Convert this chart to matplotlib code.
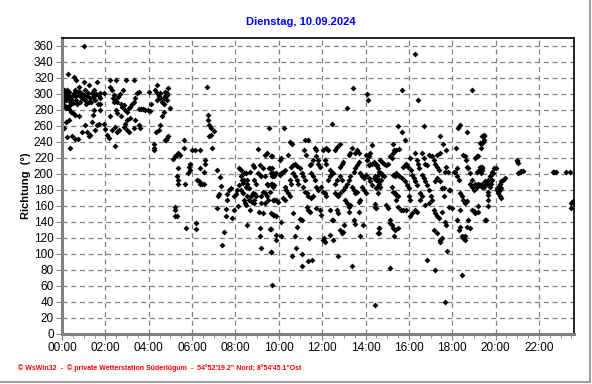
import numpy as np
import matplotlib
matplotlib.use("Agg")
import matplotlib.pyplot as plt
from matplotlib.lines import Line2D
from matplotlib.ticker import MultipleLocator, FuncFormatter

plt.rcParams['font.family'] = ['Liberation Sans', 'DejaVu Sans']

nacht = [(62,360),(16,325),(5,305),(32,321),(40,317),(60,315),(74,311),(97,315),(134,318),(150,317),
         (178,317),(198,317),(263,311),(240,302),
         (0,297),(5,292),(9,301),(14,305),(18,295),(23,290),(28,297),(32,301),(37,305),(42,299),
         (46,309),(51,303),(55,295),(60,299),(65,305),(69,297),(74,290),(78,295),(83,301),(88,305),
         (92,299),(102,297),(106,301),(115,301),(134,309),(138,305),(143,299),(148,292),(152,290),
         (162,288),(166,284),(171,286),(175,280),(180,278),(185,282),(189,284),(194,288),(198,290),
         (203,295),(208,301),(212,303),(5,286),(14,284),(23,286),(42,288),(51,290),(65,292),
         (3,300),(8,296),(12,292),(16,299),(20,303),(25,294),(30,289),(35,298),(40,293),(45,302),
         (50,297),(55,300),(62,294),(66,288),(72,301),(80,290),(85,296),(90,292),(95,300),(100,287),
         (10,283),(20,281),(26,278),(140,295),(145,290),(155,296),(160,300),(170,305),
         (258,305),(263,301),(268,297),(272,295),(277,290),(282,288),(286,297),(291,301),(263,292),(272,301),
         (5,257),(12,265),(18,268),(14,246),(23,233),(28,247),(37,244),(43,244),(30,276),(37,274),
         (46,272),(55,252),(65,261),(69,253),(74,247),(78,249),(83,265),(86,274),(88,280),(92,255),
         (97,261),(102,263),(106,280),(104,288),(106,295),(115,263),(120,256),(125,249),(129,245),(132,272),
         (138,255),(148,259),(152,253),(157,255),(150,280),(152,276),(162,272),(148,235),(171,259),(175,263),
         (180,255),(185,253),(180,267),(189,270),(203,267),(200,257),(212,261),(215,258),(212,281),(218,281),
         (224,281),(231,280),(237,280),(243,279),(247,287),(261,252),(268,255),(272,261),(277,272),(282,278),
         (254,238),(256,232),(254,230),(289,243),
         (285,303),(290,299),(294,307),(283,295),(290,293),(299,282),(294,247),(290,245),(285,243)]

morgen = [(308,219),(313,222),(318,224),(322,226),(327,224),(321,207),(318,197),(320,193),(322,188),(313,159),
          (313,155),(313,147),(318,147),(341,188),(343,133),(337,243),(338,233),(351,209),(355,213),(353,205),
          (348,201),(360,230),(369,230),(382,230),(371,139),(371,131),(373,193),(378,191),(381,207),(383,188),
          (387,188),(392,188),(392,203),(397,213),(397,217),(402,309),(405,274),(405,268),(408,261),(412,257),
          (407,247),(412,249),(421,254),(414,233),(428,205),(437,196),(441,185),(430,157),(432,172),(435,175),
          (449,127),(442,111),(454,156),(454,147),(458,175),(463,180),(468,182),(456,168),(470,145),(475,155),
          (477,172),(482,175),(485,180),(487,160),(489,207),(495,205),(491,186),(496,180),(501,176),(505,168),
          (507,164),(510,161),(503,201),(510,201),(519,202),(512,193),(513,188),(518,182),(511,136),(521,155),
          (525,165),(530,168),(532,164),(528,211),(532,209),(535,175),(538,172),(543,201),(547,199),(552,197),
          (545,153),(547,132),(549,122),(552,107),(543,231),(547,211),(557,207),(552,164),(557,151),(562,224),
          (566,226),(562,197),(566,188),(571,186),(573,258),(576,207),(580,207),(578,131),(580,222),(578,102),
          (580,61),(585,168),(585,149),(582,197),(585,201),
          (495,197),(499,193),(501,189),(513,172),(518,168),(523,172),(528,176),(505,193),(510,184),(532,193),
          (537,188),(557,178),(562,176),(566,172),(571,168),(576,178),(580,188),(562,164),(552,172)]

mittag = [(614,257),(579,222),(574,207),(579,201),(584,199),(588,197),(593,201),(579,188),(584,184),(588,186),
          (593,168),(597,165),(588,168),(579,151),(588,149),(593,147),(607,140),(577,131),(591,124),(593,117),
          (607,122),(579,103),(602,199),(607,201),(611,203),(616,205),(607,220),(602,218),(616,184),(621,180),
          (626,176),(630,172),(626,224),(630,240),(637,237),(611,170),(616,168),(640,151),(645,122),(647,107),
          (637,97),(650,134),(658,144),(663,142),(663,85),(665,100),(672,242),(681,243),(670,230),(675,224),
          (681,91),(691,92),(635,209),(640,211),(645,213),(649,210),(640,201),(645,197),(649,193),(654,188),
          (630,193),(635,188),(658,207),(663,201),(668,197),(672,193),(668,184),(672,178),(677,176),(681,172),
          (677,159),(681,155),(686,153),(690,170),(695,172),(684,120),(686,211),(690,213),(695,217),(690,201),
          (695,197),(700,193),(700,232),(704,230),(704,222),(709,218),(709,213),(714,209),(704,184),(709,180),
          (704,157),(714,155),(718,149),(723,117),(726,120),(728,115),(718,184),(723,178),(728,176),(732,172),
          (723,230),(732,232),(737,230),(728,218),(732,213),(742,205),(746,201),(737,193),(742,197),(751,201),
          (746,263),(742,155),(746,142),(751,142),(742,124),(751,117),(756,176),(760,174),(765,172),(770,176),
          (756,188),(760,193),(770,197),(774,193),(756,230),(760,234),(770,238),(760,155),(765,151),(763,97),
          (770,209),(774,213),(779,215),(770,130),(774,126),(779,128),(779,180),(784,184),(788,188),(793,193),
          (798,197),(784,168),(788,164),(793,159),(798,161),(781,136),(788,282),(793,224),(798,226),(802,232),
          (795,153),(802,184),(807,180),(812,176),(816,178),(802,85),(805,307),(807,203),(812,207),(816,211),
          (821,215),(807,142),(812,138),(812,226),(816,230),(821,226),(821,165),(826,168),(821,153),(826,201),
          (830,197),(835,195),(840,199),(826,122),(830,184),(835,180),(840,176),(833,136),(840,224),(844,218),
          (849,222),(853,226),(844,300),(846,292),(849,211),(853,213),(858,212),(863,215),(867,213),(872,211),
          (849,195),(853,191),(858,186),(863,195),(858,236),(867,162),(870,158),(877,132),(877,126),(867,36),
          (872,197),(877,193),(879,184)]

abend = [(976,350),(941,305),(985,292),(1134,305),(930,260),(941,253),(950,242),(1003,260),(1096,258),(1101,261),
         (1122,253),(1045,248),(1054,238),(1063,230),(1091,232),(1158,239),(1162,247),(1167,249),(916,237),(918,230),
         (925,230),(934,231),(907,222),(912,220),(916,226),(881,218),(887,215),(892,213),(896,211),(901,212),
         (869,211),(874,207),(878,203),(883,201),(887,199),(892,197),(865,197),(869,193),(874,191),(878,188),
         (883,193),(869,182),(874,176),(872,184),(865,159),(878,132),(874,126),(896,161),(901,157),(907,142),
         (907,139),(912,136),(916,132),(921,130),(930,132),(918,122),(908,82),
         (916,199),(921,197),(925,201),(930,199),(934,197),(912,184),(916,178),(921,176),(925,174),(930,172),
         (925,168),(930,159),(937,155),(943,209),(948,211),(952,213),(957,209),(943,155),(952,155),(941,195),
         (950,191),(955,186),(959,182),(962,220),(966,205),(959,172),(964,168),(964,148),(969,151),(976,155),
         (983,153),(969,199),(973,195),(978,191),(983,186),(978,226),(983,218),(985,213),(987,207),(992,176),
         (996,172),(992,168),(996,226),(1001,220),(1006,213),(1010,211),(1015,224),(996,199),(1001,195),(1006,191),
         (1010,186),(1015,180),(1006,161),(1015,164),(1010,92),(1020,172),(1024,168),(1029,155),(1033,151),(1038,147),
         (1043,145),(1029,130),(1038,126),(1047,117),(1052,120),(1047,115),(1033,80),(1024,222),(1029,218),(1033,213),
         (1038,209),(1043,205),(1038,224),(1047,226),(1031,191),(1038,195),(1047,191),(1052,182),(1052,153),(1061,140),
         (1063,136),(1056,172),(1056,182),(1059,203),(1063,209),(1068,203),(1065,104),(1061,40),(1070,180),(1075,180),
         (1070,159),(1079,157),(1084,203),(1089,203),(1093,207),(1093,197),(1098,193),(1093,142),(1098,130),(1101,134),
         (1108,122),(1111,120),(1116,122),(1116,117),(1108,74),(1101,176),(1106,172),(1111,168),(1116,164),(1120,166),
         (1101,155),(1111,224),(1116,222),(1118,218),(1120,209),(1125,207),(1130,201),(1134,193),(1130,188),(1134,184),
         (1139,180),(1144,188),(1148,184),(1125,142),(1130,132),(1120,134),(1134,155),(1139,154),(1144,151),(1148,203),
         (1153,205),(1158,209),(1162,207),(1144,220),(1148,222),(1162,188),(1167,184),(1167,243),(1170,142)]

nacht_spaet = [(1169,247),(1166,240),(1163,239),(1160,233),(1152,222),(1163,209),(1161,205),(1160,201),(1152,188),
               (1157,186),(1161,184),(1166,186),(1170,191),(1175,188),(1179,193),(1184,188),(1184,197),(1188,199),
               (1190,203),(1193,201),(1196,207),(1200,207),(1184,184),(1188,188),(1190,193),(1178,178),(1180,174),
               (1178,168),(1178,160),(1174,142),(1152,160),(1152,153),(1203,180),(1205,182),(1209,185),(1212,188),
               (1216,191),(1221,193),(1226,195),(1207,176),(1212,180),(1215,182),(1212,172),(1215,170),(1260,217),
               (1262,214),(1258,216),(1262,201),(1267,203),(1271,204),(1276,204),(1358,203),(1363,203),(1368,203),
               (1395,203),(1407,203),(1409,164),(1413,166),(1415,165),(1409,157)]

werte = np.array(nacht + morgen + mittag + abend + nacht_spaet, dtype=float)
stunden = werte[:, 0] / 60.0
richtung = werte[:, 1]

fig = plt.figure(figsize=(5.92, 3.84), dpi=100)
ax = fig.add_axes([62/592, 50/384, 512/592, 296/384])

ax.plot(stunden, richtung, linestyle='none', marker='D', markersize=3.0,
        color='black', markeredgewidth=0)

ax.set_xlim(0, 1417/60)
ax.set_ylim(0, 370)
ax.xaxis.set_major_locator(MultipleLocator(2))
ax.xaxis.set_minor_locator(MultipleLocator(0.5))
ax.xaxis.set_major_formatter(FuncFormatter(lambda v, p: "%02d:00" % int(round(v))))
ax.yaxis.set_major_locator(MultipleLocator(20))
ax.grid(True, color='#808080', linestyle=(0, (4, 3)), linewidth=0.9)
ax.set_axisbelow(True)

ax.tick_params(axis='both', which='both', direction='out', color='#808080', labelsize=8.5)
ax.tick_params(axis='x', which='major', length=4, pad=1.5)
ax.tick_params(axis='x', which='minor', length=3)
ax.tick_params(axis='y', length=4, pad=2)

for s in ['left', 'bottom']:
    ax.spines[s].set_color('#808080')
    ax.spines[s].set_linewidth(2.2)
for s in ['top', 'right']:
    ax.spines[s].set_color('black')
    ax.spines[s].set_linewidth(1.2)

fig.text(301/592, 1 - 22/384, "Dienstag, 10.09.2024", color='#0000ff', fontsize=8,
         fontweight='bold', ha='center', va='center')
fig.text(26/592, 1 - 186/384, "Richtung  (°)", rotation=90, fontsize=8,
         fontweight='bold', ha='center', va='center')
fig.text(18/592, 1 - 368/384,
         "© WsWin32  -  © private Wetterstation Süderlügum  -  54°52'19.2\" Nord; 8°54'45.1\"Ost",
         color='red', fontsize=5, fontweight='bold', ha='left', va='center')

# grauer Rahmen rechts und unten
fig.add_artist(Line2D([589.5/592, 589.5/592], [2/384, 1], color='#a0a0a0', linewidth=1.5))
fig.add_artist(Line2D([0, 589.5/592], [2/384, 2/384], color='#a0a0a0', linewidth=1.5))

fig.savefig("out.png", dpi=100)
